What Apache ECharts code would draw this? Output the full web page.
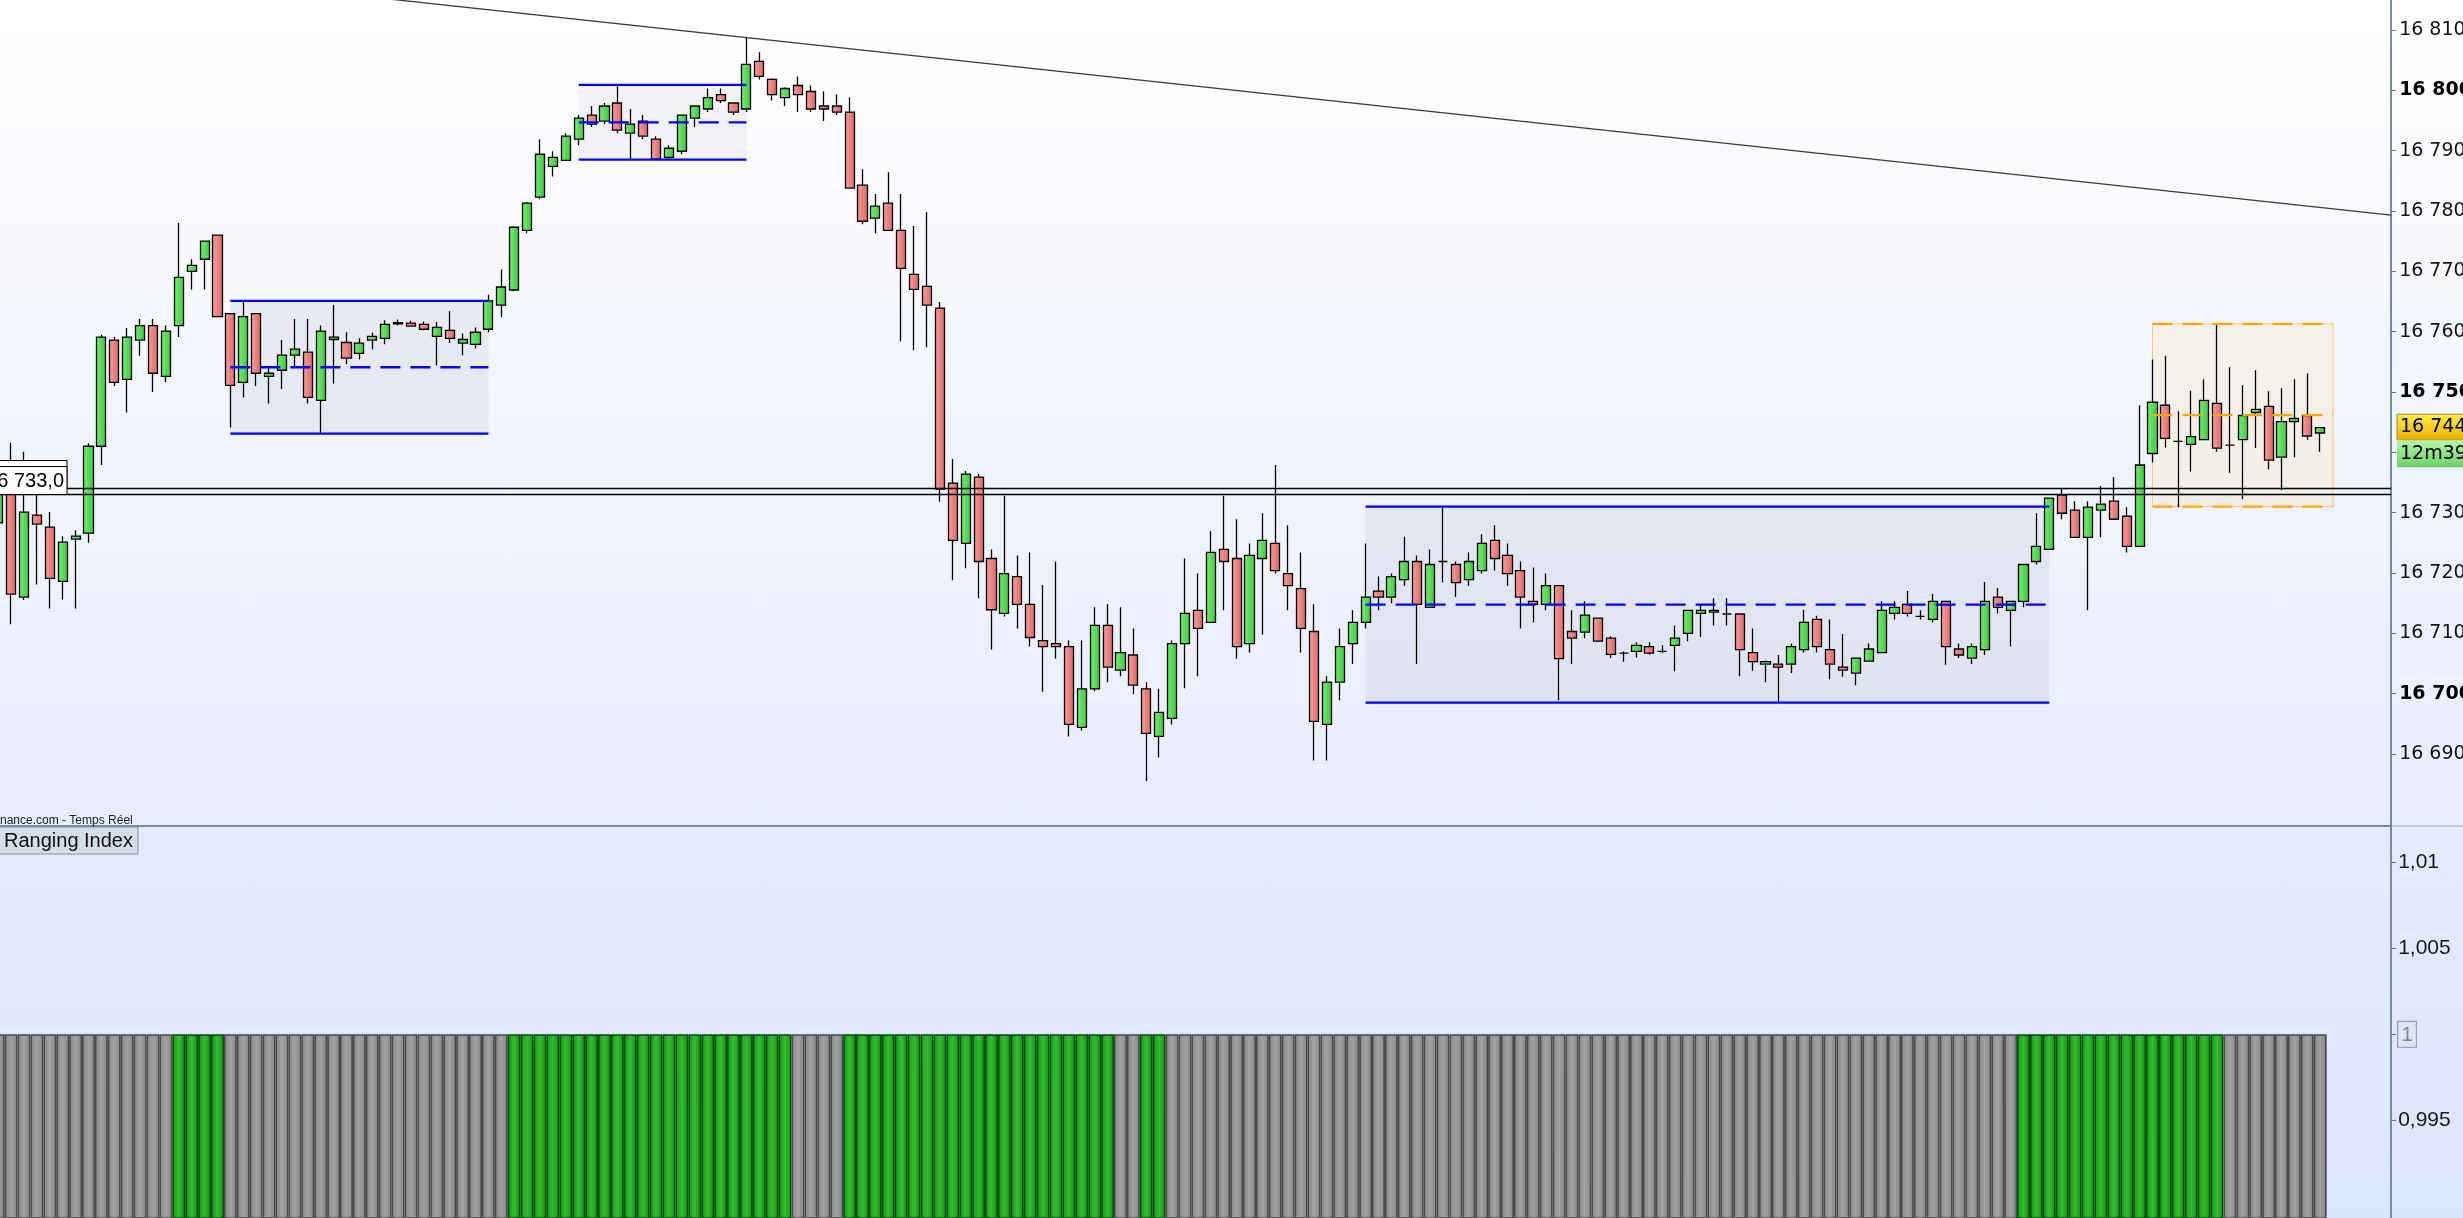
<!DOCTYPE html>
<html>
<head>
<meta charset="utf-8">
<script src="https://cdn.jsdelivr.net/npm/echarts@6/dist/echarts.min.js"></script>
<style>
html,body{margin:0;padding:0;overflow:hidden;}
#c{width:2463px;height:1218px;background:linear-gradient(to bottom,#ffffff 0px,#f1f4fd 420px,#e8edfc 826px,#e5ebfd 827px,#dbe5fd 1218px);}
</style>
</head>
<body>
<div id="c"></div>
<script>
// ---- candle data (index 0 is the partially visible candle at the left edge) ----
const opens = [
16728.3,16737,16716,16729.6,16727.6,16718.6,16725.6,16726.6,16741.0,16758.6,
16752.1,16758.6,16761.0,16752.6,16761.0,16770.0,16772.0,16776.0,16763.0,16751.6,
16763.0,16752.6,16753.6,16756.1,16756.6,16748.6,16758.7,16758.2,16756.4,16758.6,
16758.9,16761.3,16761.4,16761.2,16759.2,16760.2,16758.1,16757.9,16760.4,16764.4,
16766.9,16776.8,16782.3,16787.4,16788.4,16791.9,16795.9,16794.9,16797.9,16792.9,
16794.9,16791.9,16788.9,16789.9,16795.4,16796.9,16799.3,16797.9,16796.9,16804.8,
16801.8,16798.8,16800.8,16799.8,16797.4,16797.4,16796.4,16784.3,16778.8,16781.3,
16776.8,16769.5,16767.5,16763.9,16734.9,16724.9,16735.9,16722.4,16713.3,16719.4,
16714.8,16708.8,16708.3,16707.8,16694.4,16700.8,16711.3,16703.9,16706.4,16700.8,
16692.9,16695.9,16708.3,16713.8,16711.8,16723.9,16722.4,16708.3,16722.4,16724.9,
16719.9,16717.4,16710.3,16694.9,16701.9,16708.3,16711.8,16717.0,16716.0,16718.9,
16721.9,16714.3,16721.9,16721.4,16718.9,16720.4,16725.4,16722.9,16720.4,16715.3,
16714.8,16717.9,16710.3,16710.2,16712.5,16709.2,16706.7,16707.0,16707.8,16707.0,
16708.0,16710.0,16713.3,16713.5,16713.2,16713.2,16706.8,16704.9,16704.9,16704.9,
16707.3,16712.3,16707.3,16704.4,16703.4,16705.4,16706.8,16713.3,16714.8,16712.8,
16712.3,16715.3,16707.4,16705.9,16707.3,16716.0,16713.8,16715.3,16721.9,16723.9,
16732.9,16730.4,16725.9,16730.4,16731.9,16729.4,16724.4,16739.8,16747.8,16741.8,
16741.3,16742.1,16748.1,16741.2,16742.1,16746.6,16747.6,16739.2,16745.1,16746.1,16743.2
];
const closes = [
16736,16716.5,16730.1,16728.1,16719.1,16725.1,16726.1,16741.0,16759.1,16751.6,
16759.1,16761.0,16753.1,16760.1,16769.0,16771.0,16775.0,16762.5,16751.1,16762.5,
16753.1,16753.1,16756.1,16757.1,16749.1,16760.1,16759.1,16755.6,16758.1,16759.2,
16761.2,16761.5,16760.9,16760.4,16760.7,16758.9,16758.7,16759.9,16765.1,16767.4,
16777.3,16781.3,16789.4,16788.9,16792.4,16795.4,16794.4,16797.4,16793.4,16794.4,
16792.4,16788.6,16790.4,16795.9,16797.4,16798.8,16798.3,16796.4,16804.3,16802.3,
16799.3,16800.3,16799.3,16796.9,16796.9,16796.4,16783.8,16778.3,16780.8,16776.8,
16770.5,16767.0,16764.4,16733.9,16725.4,16736.4,16721.9,16713.9,16719.9,16714.8,
16709.3,16707.8,16707.8,16694.9,16700.8,16711.3,16704.4,16706.8,16701.4,16693.4,
16696.9,16708.3,16713.3,16710.8,16723.4,16721.9,16707.8,16722.9,16725.4,16720.4,
16717.9,16710.8,16695.4,16701.9,16707.8,16711.8,16716.0,16716.0,16719.4,16721.9,
16714.8,16721.4,16721.9,16718.4,16721.9,16724.9,16722.4,16719.9,16716.0,16714.8,
16717.9,16705.8,16709.2,16713.0,16708.7,16706.5,16706.7,16708.0,16706.7,16707.0,
16709.2,16713.8,16713.8,16713.8,16713.2,16707.3,16705.3,16705.3,16704.4,16707.8,
16711.8,16707.8,16704.9,16703.9,16705.9,16707.4,16713.8,16714.3,16713.3,16712.8,
16715.3,16707.8,16706.4,16707.8,16715.3,16714.3,16715.3,16721.4,16724.4,16732.4,
16729.9,16725.9,16730.9,16731.4,16728.9,16724.4,16737.9,16748.3,16742.3,16741.8,
16742.6,16748.6,16740.7,16741.2,16746.1,16747.1,16738.7,16745.1,16745.6,16742.7,16744.1
];
const highs = [
16737,16741.6,16740.1,16733.0,16730.1,16726.1,16727.1,16741.5,16759.5,16759.1,
16760.6,16762.1,16762.1,16761.0,16778.0,16772.0,16775.0,16776.0,16763.0,16765.1,
16763.0,16754.1,16758.6,16762.1,16762.1,16761.0,16764.4,16759.9,16758.9,16759.8,
16761.9,16762.0,16761.8,16761.7,16761.6,16763.4,16759.7,16760.7,16766.1,16770.3,
16777.5,16781.5,16791.9,16789.9,16792.9,16795.9,16797.4,16797.9,16800.8,16796.9,
16795.9,16792.4,16790.9,16796.0,16797.5,16800.3,16800.3,16798.0,16808.8,16806.3,
16802.0,16800.5,16802.3,16800.8,16799.8,16799.3,16798.8,16786.9,16782.8,16786.4,
16782.8,16777.5,16779.8,16764.9,16738.9,16736.9,16736.4,16723.9,16732.8,16722.9,
16723.4,16718.0,16721.9,16708.8,16708.8,16714.3,16714.8,16714.3,16710.8,16701.9,
16700.8,16708.8,16722.4,16719.9,16726.9,16732.8,16728.9,16724.9,16729.9,16737.9,
16727.9,16723.4,16714.8,16702.9,16710.8,16713.8,16724.9,16719.4,16719.9,16726.0,
16722.9,16723.9,16730.9,16721.9,16723.4,16726.4,16727.9,16724.9,16721.9,16720.9,
16719.9,16718.0,16713.8,16715.3,16712.6,16709.5,16707.0,16708.5,16708.5,16708.0,
16711.3,16713.8,16714.8,16715.8,16715.8,16713.3,16710.8,16705.5,16706.4,16708.3,
16713.9,16712.9,16712.3,16709.9,16706.0,16708.3,16715.3,16715.3,16717.0,16713.8,
16716.5,16715.4,16708.3,16708.3,16718.5,16717.5,16715.3,16721.5,16729.9,16732.5,
16734.0,16731.9,16731.9,16734.4,16735.9,16730.9,16747.8,16755.4,16756.0,16746.8,
16750.2,16752.1,16761.1,16754.1,16751.1,16753.6,16750.1,16750.6,16752.1,16753.1,16744.2
];
const lows = [
16727,16711.5,16715.5,16718.1,16714.1,16715.6,16714.1,16725.0,16737.9,16751.0,
16746.6,16756.0,16750.0,16751.6,16759.1,16767.0,16767.0,16762.5,16744.1,16749.1,
16751.0,16748.1,16750.5,16754.1,16748.1,16743.1,16751.4,16754.6,16755.4,16757.1,
16757.9,16761.0,16760.8,16760.2,16754.4,16758.1,16756.1,16757.2,16759.9,16762.4,
16766.7,16776.3,16782.0,16785.7,16788.3,16790.9,16793.9,16794.4,16792.9,16788.6,
16791.9,16788.5,16788.6,16789.4,16793.9,16796.4,16797.9,16795.9,16796.4,16801.8,
16798.3,16797.4,16796.4,16796.4,16794.9,16795.9,16783.7,16777.8,16776.3,16776.7,
16758.4,16756.9,16757.4,16731.8,16718.8,16720.8,16715.8,16707.3,16712.8,16710.8,
16707.8,16700.3,16705.8,16692.9,16693.9,16700.4,16701.9,16702.9,16699.9,16685.5,
16689.4,16694.9,16700.9,16702.9,16711.7,16713.8,16705.8,16706.8,16709.8,16719.9,
16713.8,16706.8,16688.9,16688.9,16698.9,16704.9,16710.8,16713.8,16715.0,16717.9,
16704.9,16714.2,16718.4,16716.0,16717.9,16719.9,16720.4,16717.9,16710.8,16711.8,
16713.8,16698.9,16704.9,16709.2,16708.6,16705.9,16705.3,16706.0,16706.5,16706.7,
16703.7,16708.7,16709.4,16711.3,16711.3,16702.9,16703.8,16701.9,16698.4,16703.4,
16706.8,16706.8,16702.4,16702.8,16701.4,16705.3,16706.7,16712.3,16712.8,16712.3,
16711.8,16704.8,16705.9,16704.9,16706.4,16713.3,16707.8,16714.3,16721.4,16723.8,
16728.9,16725.8,16713.8,16725.9,16728.8,16723.4,16724.3,16738.3,16740.8,16730.9,
16736.8,16742.0,16740.1,16736.6,16732.2,16740.7,16737.2,16733.7,16739.2,16742.1,16740.1
];

// ---- Ranging Index panel: value and state (1 = green / ranging, 0 = grey), 181 bars ----
const rangingIndex = [
1,1,1,1,1,1,1,1,1,1, 1,1,1,1,1,1,1,1,1,1, 1,1,1,1,1,1,1,1,1,1,
1,1,1,1,1,1,1,1,1,1, 1,1,1,1,1,1,1,1,1,1, 1,1,1,1,1,1,1,1,1,1,
1,1,1,1,1,1,1,1,1,1, 1,1,1,1,1,1,1,1,1,1, 1,1,1,1,1,1,1,1,1,1,
1,1,1,1,1,1,1,1,1,1, 1,1,1,1,1,1,1,1,1,1, 1,1,1,1,1,1,1,1,1,1,
1,1,1,1,1,1,1,1,1,1, 1,1,1,1,1,1,1,1,1,1, 1,1,1,1,1,1,1,1,1,1,
1,1,1,1,1,1,1,1,1,1, 1,1,1,1,1,1,1,1,1,1, 1,1,1,1,1,1,1,1,1,1,
1
];
const rangingState = [
0,0,0,0,0,0,0,0,0,0, // 0-9
0,0,0,0,1,1,1,1,0,0, // 10-19
0,0,0,0,0,0,0,0,0,0, // 20-29
0,0,0,0,0,0,0,0,0,0, // 30-39
1,1,1,1,1,1,1,1,1,1, // 40-49
1,1,1,1,1,1,1,1,1,1, // 50-59
1,1,0,0,0,0,1,1,1,1, // 60-69
1,1,1,1,1,1,1,1,1,1, // 70-79
1,1,1,1,1,1,1,0,0,1, // 80-89
1,0,0,0,0,0,0,0,0,0, // 90-99
0,0,0,0,0,0,0,0,0,0, // 100-109
0,0,0,0,0,0,0,0,0,0, // 110-119
0,0,0,0,0,0,0,0,0,0, // 120-129
0,0,0,0,0,0,0,0,0,0, // 130-139
0,0,0,0,0,0,0,0,0,0, // 140-149
0,0,0,0,0,0,0,1,1,1, // 150-159
1,1,1,1,1,1,1,1,1,1, // 160-169
1,1,1,0,0,0,0,0,0,0, // 170-179
0                    // 180
];

// ---- axis ticks ----
const priceTicks = [16690,16700,16710,16720,16730,16740,16750,16760,16770,16780,16790,16800,16810];
const boldTicks = [16700,16750,16800];
const indicatorTicks = [0.995,1,1.005,1.01];

// ---- drawings ----
const trendX = [30,185.5];
const trendY = [16815.2,16779.3];
const levelLines = [16734.0,16733.0];
const boxStart  = [18,45,106,167];
const boxEnd    = [38,58,159,181];
const boxTop    = [16765.1,16800.9,16731.0,16761.3];
const boxMid    = [16754.1,16794.7,16714.75,16746.15];
const boxBottom = [16743.1,16788.5,16698.5,16731.0];
const boxKind   = ['blue','blue','blue','orange'];
const lastPrice = 16744;
const timerText = '12m39';
const slotCount = 186; // candle slots incl. empty space before the price axis

const categories = [];
for (let i = 0; i < slotCount; i++) categories.push(String(i));

const G = echarts.graphic.LinearGradient;
const upFill = new G(0,0,1,0,[{offset:0,color:'#74ef74'},{offset:1,color:'#3fc63f'}]);
const downFill = new G(0,0,1,0,[{offset:0,color:'#f7a0a0'},{offset:1,color:'#de6666'}]);
const greyBar = new G(0,0,1,0,[{offset:0,color:'#4b4b4b'},{offset:0.1,color:'#4b4b4b'},{offset:0.11,color:'#8c8c8c'},{offset:0.5,color:'#a2a2a2'},{offset:0.89,color:'#8a8a8a'},{offset:0.9,color:'#4b4b4b'},{offset:1,color:'#4b4b4b'}]);
const greenBar = new G(0,0,1,0,[{offset:0,color:'#064f06'},{offset:0.1,color:'#064f06'},{offset:0.11,color:'#1d9a1d'},{offset:0.5,color:'#33bd33'},{offset:0.89,color:'#1a941a'},{offset:0.9,color:'#064f06'},{offset:1,color:'#064f06'}]);

const LEFT = -8.25, SLOT = 12.9;
const gridW = slotCount * SLOT;

function fmtPrice(v){
  const s = Math.round(v);
  const t = Math.floor(s/1000) + ' ' + String(s%1000).padStart(3,'0');
  return boldTicks.indexOf(s) >= 0 ? '{b|' + t + '}' : t;
}

const candleData = opens.map((o,i)=>[o, closes[i], lows[i], highs[i]]);
const boxData = boxStart.map((s,i)=>[s, boxEnd[i], boxTop[i], boxBottom[i], boxMid[i]]);

function renderBoxFill(params, api){
  const i = params.dataIndex;
  const orange = boxKind[i] === 'orange';
  const p1 = api.coord([boxStart[i], boxTop[i]]);
  const p2 = api.coord([boxEnd[i], boxBottom[i]]);
  return {
    type:'rect',
    shape:{x:p1[0], y:p1[1], width:p2[0]-p1[0], height:p2[1]-p1[1]},
    style:{
      fill: orange ? 'rgba(255,215,120,0.16)' : (i===1 ? 'rgba(190,190,200,0.17)' : 'rgba(175,178,196,0.18)'),
      stroke: orange ? 'rgba(255,185,70,0.75)' : null,
      lineWidth: 1
    }
  };
}
function renderBoxLines(params, api){
  const i = params.dataIndex;
  const orange = boxKind[i] === 'orange';
  const xa = api.coord([boxStart[i], boxTop[i]])[0];
  const xb = api.coord([boxEnd[i], boxTop[i]])[0];
  const yt = api.coord([boxStart[i], boxTop[i]])[1];
  const ym = api.coord([boxStart[i], boxMid[i]])[1];
  const yb = api.coord([boxStart[i], boxBottom[i]])[1];
  const col = orange ? '#ffa500' : '#0000ff';
  const solid = {stroke: col, lineWidth: 2.3};
  const dashed = {stroke: col, lineWidth: 2.3, lineDash:[20,10]};
  return {type:'group', children:[
    {type:'line', shape:{x1:xa,y1:yt,x2:xb,y2:yt}, style: orange ? dashed : solid},
    {type:'line', shape:{x1:xa,y1:ym,x2:xb,y2:ym}, style: dashed},
    {type:'line', shape:{x1:xa,y1:yb,x2:xb,y2:yb}, style: orange ? dashed : solid}
  ]};
}

const chart = echarts.init(document.getElementById('c'), null, {renderer:'canvas'});
const option = {
  animation:false,
  backgroundColor:'transparent',
  grid:[
    {left:LEFT, top:0, width:gridW, height:826, outerBoundsMode:'none', containLabel:false},
    {left:LEFT, top:826, width:gridW, height:392, outerBoundsMode:'none', containLabel:false}
  ],
  xAxis:[
    {type:'category', gridIndex:0, data:categories, show:false, boundaryGap:true},
    {type:'value', gridIndex:0, min:-0.5, max:slotCount-0.5, show:false},
    {type:'category', gridIndex:1, data:categories, show:false, boundaryGap:true}
  ],
  yAxis:[
    {type:'value', gridIndex:0, position:'right', min:16678.06, max:16814.97, scale:true,
     splitLine:{show:false},
     axisLine:{show:true, onZero:false, lineStyle:{color:'#7a8b98', width:2}},
     axisTick:{show:true, customValues:priceTicks, length:5, lineStyle:{color:'#6c7d8a', width:1}},
     axisLabel:{customValues:priceTicks, formatter:fmtPrice, margin:8, fontFamily:'DejaVu Sans', fontSize:19, color:'#141414',
       rich:{b:{fontFamily:'DejaVu Sans', fontWeight:'bold', fontSize:19, color:'#000'}}}
    },
    {type:'value', gridIndex:1, position:'right', min:0.98932, max:1.01211, scale:true,
     splitLine:{show:false},
     axisLine:{show:true, onZero:false, lineStyle:{color:'#7a8b98', width:2}},
     axisTick:{show:true, customValues:indicatorTicks, length:5, lineStyle:{color:'#6c7d8a', width:1}},
     axisLabel:{customValues:indicatorTicks, margin:7, fontFamily:'Liberation Sans', fontSize:21, color:'#1a1a1a',
       formatter:function(v){ return v === 1 ? '{box|1}' : String(v).replace('.', ','); },
       rich:{box:{fontFamily:'Liberation Sans', fontSize:21, color:'#7f8a94', backgroundColor:'#dde6f3', borderColor:'#8494a4', borderWidth:1, padding:[3,3,1,3]}}}
    }
  ],
  series:[
    {type:'custom', name:'boxFill', xAxisIndex:1, yAxisIndex:0, data:boxData, encode:{x:[0,1], y:[2,3]},
     renderItem:renderBoxFill, z:1, silent:true},
    {type:'candlestick', name:'CAC', xAxisIndex:0, yAxisIndex:0, data:candleData, barWidth:9.6, z:3,
     itemStyle:{color:upFill, color0:downFill, borderColor:'#000', borderColor0:'#000', borderColorDoji:'#000', borderWidth:1.3}},
    {type:'custom', name:'boxLines', xAxisIndex:1, yAxisIndex:0, data:boxData, encode:{x:[0,1], y:[2,3]},
     renderItem:renderBoxLines, z:5, silent:true},
    {type:'line', name:'trend', xAxisIndex:1, yAxisIndex:0, data:trendX.map((x,i)=>[x, trendY[i]]),
     symbol:'none', lineStyle:{color:'#3a3a3a', width:1.3}, z:6, silent:true},
    {type:'line', name:'level1', xAxisIndex:1, yAxisIndex:0, data:[[-0.5, levelLines[0]],[slotCount-0.5, levelLines[0]]],
     symbol:'none', lineStyle:{color:'#000', width:1.5}, z:6, silent:true},
    {type:'line', name:'level2', xAxisIndex:1, yAxisIndex:0, data:[[-0.5, levelLines[1]],[slotCount-0.5, levelLines[1]]],
     symbol:'none', lineStyle:{color:'#000', width:1.5}, z:6, silent:true},
    {type:'bar', name:'Ranging Index', xAxisIndex:2, yAxisIndex:1, barWidth:'100%', barCategoryGap:0,
     data: rangingIndex.map((v,i)=>({value:v, itemStyle:{color: rangingState[i] ? greenBar : greyBar,
        borderColor: rangingState[i] ? '#064f06' : '#4b4b4b', borderWidth:1.5}})),
     z:2, silent:true}
  ]
};
chart.setOption(option);

const yLast = chart.convertToPixel({yAxisIndex:0}, lastPrice);
const yL1 = chart.convertToPixel({yAxisIndex:0}, levelLines[0]);
const yL2 = chart.convertToPixel({yAxisIndex:0}, levelLines[1]);
function fmtLevel(v){ const s=v.toFixed(1).replace('.', ','); return Math.floor(v/1000) + ' ' + s.slice(2); }

chart.setOption({
  graphic:[
    {type:'line', z:50, shape:{x1:0,y1:826,x2:2392,y2:826}, style:{stroke:'#7b8c99', lineWidth:2}},
    {type:'line', z:50, shape:{x1:2392,y1:826,x2:2463,y2:826}, style:{stroke:'#c6cfd7', lineWidth:2}},
    {type:'text', z:50, x:0, y:821, style:{text:'nance.com - Temps Réel', fill:'#222', font:'12px "Liberation Sans"', textVerticalAlign:'middle'}},
    {type:'rect', z:50, shape:{x:-2, y:827, width:140, height:27}, style:{fill:'#d3dee6', stroke:'#8797a3', lineWidth:1}},
    {type:'text', z:51, x:4, y:841, style:{text:'Ranging Index', fill:'#111', font:'20px "Liberation Sans"', textVerticalAlign:'middle'}},
    // left level labels
    {type:'rect', z:60, shape:{x:-10, y:yL1-28, width:77, height:28}, style:{fill:'#fff', stroke:'#000', lineWidth:1}},
    {type:'text', z:61, x:64, y:yL1-13, style:{text:fmtLevel(levelLines[0]), fill:'#000', font:'20px "Liberation Sans"', textAlign:'right', textVerticalAlign:'middle'}},
    {type:'rect', z:62, shape:{x:-10, y:yL2-28, width:77, height:28}, style:{fill:'#fff', stroke:'#000', lineWidth:1}},
    {type:'text', z:63, x:64, y:yL2-13, style:{text:fmtLevel(levelLines[1]), fill:'#000', font:'20px "Liberation Sans"', textAlign:'right', textVerticalAlign:'middle'}},
    // last price + timer
    {type:'rect', z:70, shape:{x:2397, y:yLast-14, width:70, height:26},
     style:{fill:new G(0,0,0,1,[{offset:0,color:'#fff04a'},{offset:1,color:'#e8ad00'}]), stroke:'#a08a40', lineWidth:1}},
    {type:'text', z:71, x:2400, y:yLast-1, style:{text:fmtPrice(lastPrice), fill:'#000', font:'19px "DejaVu Sans"', textVerticalAlign:'middle'}},
    {type:'rect', z:70, shape:{x:2397, y:yLast+12, width:70, height:27},
     style:{fill:new G(0,0,0,1,[{offset:0,color:'#b6f5a8'},{offset:1,color:'#6fd06a'}])}},
    {type:'text', z:71, x:2400, y:yLast+25.5, style:{text:timerText, fill:'#000', font:'19px "DejaVu Sans"', textVerticalAlign:'middle'}}
  ]
});
</script>
</body>
</html>
